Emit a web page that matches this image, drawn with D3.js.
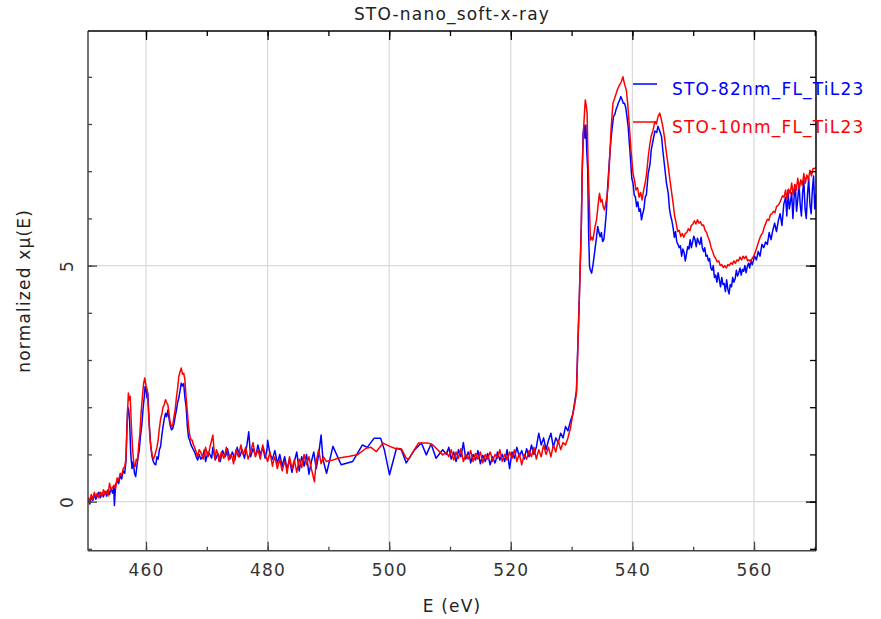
<!DOCTYPE html>
<html><head><meta charset="utf-8">
<script src="https://cdn.jsdelivr.net/npm/d3@7"></script>
<style>
body{margin:0;background:#fff}
text{font-family:"DejaVu Sans",sans-serif;letter-spacing:1.2px}
</style>
</head><body><svg id="c" width="881" height="619"></svg>
<script>
const chartTitle = "STO-nano_soft-x-ray";
const xLabel = "E (eV)";
const yLabel = "normalized xμ(E)";
const xMajorTicks = [460, 480, 500, 520, 540, 560];
const xMinorTicks = [460, 470, 480, 490, 500, 510, 520, 530, 540, 550, 560, 570];
const yMajorTicks = [0, 5];
const yMinorTicks = [-1, 0, 1, 2, 3, 4, 5, 6, 7, 8, 9];
const seriesNames = ["STO-82nm_FL_TiL23", "STO-10nm_FL_TiL23"];
const seriesColors = ["#0000ff", "#ff0000"];

// STO-82nm (blue): [E, normalized mu]
const sto82 = [
[450.5,0.05],[450.75,-0.05],[451.0,0.1],[451.25,0.02],[451.5,0.15],[451.75,0.05],[452.0,0.12],[452.25,0.2],[452.5,0.08],[452.75,0.18],[453.0,0.1],[453.25,0.22],[453.5,0.12],[453.75,0.25],[454.0,0.15],[454.25,0.28],[454.5,0.18],[454.7,0.3],[454.8,-0.08],[455.0,0.35],[455.25,0.45],[455.5,0.38],[455.75,0.55],[456.0,0.48],[456.25,0.65],[456.5,0.6],[456.7,0.85],[456.87,1.59],[457.0,2.0],[457.15,1.95],[457.3,1.7],[457.5,1.0],[457.7,0.7],[457.9,0.85],[458.1,0.6],[458.3,0.53],[458.5,0.75],[458.7,0.95],[458.9,1.1],[459.1,1.4],[459.3,1.6],[459.5,1.94],[459.7,2.2],[459.85,2.44],[460.0,2.38],[460.15,2.2],[460.3,2.3],[460.5,1.73],[460.7,1.3],[460.85,1.1],[461.0,0.95],[461.2,0.85],[461.4,0.8],[461.6,0.78],[461.8,0.95],[462.0,0.9],[462.2,1.1],[462.4,1.17],[462.6,1.4],[462.8,1.59],[463.0,1.75],[463.2,1.87],[463.4,1.8],[463.6,1.94],[463.8,1.75],[464.0,1.6],[464.2,1.52],[464.4,1.55],[464.6,1.65],[464.8,1.8],[465.0,1.94],[465.2,2.1],[465.4,2.2],[465.6,2.35],[465.8,2.51],[466.0,2.45],[466.2,2.5],[466.4,2.2],[466.6,2.01],[466.8,1.6],[467.0,1.35],[467.2,1.3],[467.4,1.2],[467.6,1.15],[467.8,1.1],[468.0,1.05],[468.25,0.95],[468.5,0.88],[468.75,1.0],
[469.0,0.9],[469.3,0.95],[469.6,1.1],[469.8,0.85],[470.2,1.05],[470.5,1.0],[470.8,0.92],[471.0,1.15],[471.4,0.88],[471.8,1.02],[472.0,0.97],[472.2,0.85],[472.6,1.08],[473.0,0.95],[473.2,1.0],[473.4,1.12],[473.8,0.9],[474.2,1.05],[474.4,0.98],[474.6,0.88],[475.0,1.15],[475.4,0.95],[475.6,1.02],[475.8,1.1],[476.2,0.92],[476.6,1.2],[476.9,1.48],[477.2,0.95],[477.6,1.12],[478.0,0.98],[478.2,1.05],[478.4,1.2],[478.8,1.0],[479.2,1.15],[479.6,0.92],[479.9,1.1],[480.0,1.3],[480.4,1.0],[480.8,0.9],[481.2,1.08],[481.6,0.82],[481.8,0.9],[482.0,1.0],[482.4,0.75],[482.8,0.95],[483.2,0.7],[483.4,0.78],[483.6,0.9],[484.0,0.62],[484.4,0.85],[484.8,1.05],[485.2,0.65],[485.6,0.95],[485.8,0.88],[486.0,0.75],[486.4,1.0],[486.8,0.58],[487.2,0.85],[487.6,1.05],[488.0,0.7],[488.4,1.0],[488.8,1.41],[489.1,0.9],[489.4,0.75],[489.7,0.6],
[490.75,1.17],[492.1,0.78],[494.0,0.85],[495.6,1.2],[496.4,1.15],[497.5,1.34],[498.6,1.34],[499.2,1.1],[500.05,0.57],[501.2,1.13],[502.0,1.1],[502.8,0.82],[504.2,1.1],[505.3,1.24],[506.1,0.99],[506.9,1.22],[507.7,0.92],[508.8,1.1],[509.4,1.0],
[509.8,1.15],[510.2,0.9],[510.6,1.05],[511.0,0.85],[511.2,0.95],[511.4,1.1],[511.8,0.95],[512.2,1.25],[512.6,0.9],[513.0,1.05],[513.2,0.98],[513.4,0.82],[513.8,1.0],[514.2,0.88],[514.6,1.08],[515.0,0.8],[515.2,0.9],[515.4,0.98],[515.8,0.85],[516.2,1.02],[516.6,0.78],[517.0,0.95],[517.4,0.82],[517.6,0.9],[517.8,1.05],[518.2,0.88],[518.6,1.0],[519.0,0.85],[519.4,1.1],[519.8,0.7],[520.2,1.05],[520.6,0.92],[521.0,1.15],[521.2,1.05],[521.4,0.95],[521.8,1.08],[522.2,0.9],[522.6,1.12],[523.0,0.95],[523.4,1.2],[523.8,1.0],[524.2,1.15],[524.6,1.45],[525.0,1.2],[525.4,1.35],[525.8,1.1],[526.2,1.3],[526.6,1.45],[527.0,1.15],[527.4,1.35],[527.8,1.25],[528.2,1.45],[528.6,1.35],[529.0,1.59],[529.4,1.5],[529.8,1.7],[530.2,1.85],[530.5,2.1],[530.8,2.35],[531.05,3.4],[531.3,4.45],[531.6,5.85],[531.75,7.0],[531.9,7.8],[532.05,7.98],[532.2,7.7],[532.35,7.98],[532.5,7.4],[532.65,7.03],[532.8,5.69],[532.95,4.98],[533.1,4.9],[533.3,4.84],[533.5,5.0],[533.7,5.19],[533.9,5.4],[534.1,5.6],[534.3,5.83],[534.5,5.7],[534.7,5.61],[534.9,5.7],[535.1,5.51],[535.3,5.55],[535.5,5.8],[535.7,6.11],[535.9,6.6],[536.1,7.0],[536.3,7.38],[536.5,7.7],[536.7,7.95],[536.9,8.16],[537.1,8.2],[537.3,8.3],[537.5,8.37],[537.7,8.45],[537.9,8.5],[538.1,8.58],[538.3,8.52],[538.5,8.44],[538.7,8.44],[538.9,8.35],
[539.1,8.16],[539.3,7.95],[539.5,7.6],[539.7,7.24],[539.9,6.85],[540.1,6.75],[540.3,6.5],[540.5,6.45],[540.7,6.25],[540.9,6.35],[541.1,6.15],[541.3,6.2],[541.5,5.97],[541.7,6.1],[541.9,6.2],[542.1,6.45],[542.3,6.5],[542.6,6.95],[542.9,7.15],[543.1,7.45],[543.4,7.65],[543.7,7.85],[544.0,7.82],[544.2,7.95],[544.5,7.85],[544.8,7.73],[545.0,7.45],[545.3,7.1],[545.6,6.75],[545.9,6.53],
[546.1,6.2],[546.3,6.05],[546.5,5.95],[546.7,5.8],[546.9,5.6],[547.1,5.72],[547.3,5.5],[547.5,5.45],[547.7,5.38],[547.9,5.42],[548.1,5.2],[548.3,5.35],[548.5,5.28],[548.7,5.1],[548.9,5.25],[549.1,5.4],[549.3,5.35],[549.5,5.55],[549.7,5.38],[549.9,5.5],[550.1,5.62],[550.3,5.55],[550.5,5.4],[550.7,5.58],[550.9,5.5],[551.1,5.45],[551.3,5.6],[551.5,5.38],[551.7,5.3],[551.9,5.38],[552.1,5.2],[552.3,5.22],[552.5,5.1],[552.7,5.15],[552.9,4.95],[553.1,4.9],[553.3,5.0],[553.5,4.75],[553.7,4.8],[553.9,4.65],[554.1,4.85],[554.3,4.7],[554.5,4.55],[554.7,4.75],[554.9,4.6],[555.1,4.62],[555.3,4.45],[555.5,4.7],[555.7,4.5],[555.9,4.4],[556.1,4.6],[556.3,4.55],[556.5,4.75],[556.7,4.65],[556.9,4.72],[557.1,4.9],[557.3,4.78],[557.5,4.85],[557.7,4.95],[557.9,4.8],[558.1,4.92],[558.3,4.88],[558.5,5.0],[558.7,4.85],[558.9,4.98],[559.1,5.05],[559.3,4.95],[559.5,5.12],[559.7,5.02],[559.9,5.1],[560.1,5.2],[560.4,5.12],[560.7,5.3],[561.0,5.2],[561.3,5.45],[561.6,5.38],[561.9,5.5],[562.2,5.45],[562.5,5.7],[562.8,5.55],[563.1,5.75],[563.4,5.9],[563.7,5.72],[564.0,5.95],[564.3,6.1],[564.6,5.85],[564.9,6.3],[565.2,6.45],[565.4,6.05],[565.6,6.6],[565.8,6.2],[566.0,6.35],[566.2,6.55],[566.4,6.0],[566.6,6.45],[566.8,6.7],[567.0,6.15],[567.2,6.4],[567.4,6.75],[567.6,6.3],[567.8,6.05],[568.0,6.55],[568.2,6.8],[568.4,6.2],[568.6,6.0],[568.8,6.5],[569.0,6.85],[569.2,6.3],[569.4,6.1],[569.6,6.6],[569.8,6.9],[570.0,6.2],[570.2,6.5]
];

// STO-10nm (red): [E, normalized mu]
const sto10 = [
[450.5,0.1],[450.75,0.0],[451.0,0.15],[451.25,0.05],[451.5,0.2],[451.75,0.1],[452.0,0.18],[452.25,0.08],[452.5,0.2],[452.75,0.12],[453.0,0.25],[453.25,0.15],[453.5,0.22],[453.75,0.12],[454.0,0.39],[454.25,0.25],[454.5,0.3],[454.75,0.35],[455.0,0.28],[455.25,0.5],[455.5,0.45],[455.75,0.6],[456.0,0.55],[456.25,0.7],[456.5,0.74],[456.7,0.9],[456.85,1.5],[457.0,2.0],[457.1,2.3],[457.25,2.15],[457.4,2.23],[457.6,1.59],[457.8,1.1],[458.0,0.8],[458.2,0.74],[458.4,0.9],[458.6,0.85],[458.8,1.2],[459.0,1.45],[459.2,1.9],[459.4,2.2],[459.6,2.5],[459.8,2.62],[460.0,2.45],[460.2,2.37],[460.4,1.94],[460.6,1.45],[460.8,1.15],[461.0,1.0],[461.2,0.9],[461.4,0.95],[461.6,1.05],[461.8,1.15],[462.0,1.31],[462.2,1.55],[462.4,1.75],[462.6,1.85],[462.8,2.0],[463.0,2.05],[463.2,2.16],[463.4,2.1],[463.6,2.05],[463.8,1.85],[464.0,1.66],[464.2,1.59],[464.4,1.62],[464.6,1.8],[464.8,1.95],[465.0,2.2],[465.2,2.4],[465.4,2.65],[465.6,2.75],[465.8,2.83],[466.0,2.7],[466.2,2.72],[466.4,2.58],[466.6,2.2],[466.8,1.9],[467.0,1.6],[467.2,1.4],[467.4,1.31],[467.6,1.3],[467.8,1.2],[468.0,1.15],[468.25,1.05],[468.5,0.95],[468.75,1.1],
[469.0,1.05],[469.4,0.9],[469.6,1.0],[469.8,1.15],[470.2,0.95],[470.6,1.2],[471.0,1.41],[471.3,0.9],[471.6,1.1],[471.8,1.02],[472.0,0.85],[472.4,1.05],[472.8,0.92],[473.0,1.0],[473.2,1.15],[473.6,0.88],[474.0,1.0],[474.2,0.92],[474.4,0.8],[474.8,1.1],[475.2,0.95],[475.6,1.2],[475.8,1.08],[476.0,1.0],[476.4,1.15],[476.8,0.9],[477.2,1.05],[477.6,1.25],[478.0,0.95],[478.2,1.02],[478.4,1.1],[478.8,0.9],[479.2,1.2],[479.6,1.0],[480.0,0.85],[480.4,1.05],[480.8,0.75],[481.0,0.88],[481.2,0.95],[481.6,0.7],[482.0,0.9],[482.4,0.65],[482.8,0.85],[483.0,0.78],[483.2,0.6],[483.6,0.95],[484.0,0.7],[484.4,0.88],[484.8,0.62],[485.2,0.9],[485.4,0.82],[485.6,0.72],[486.0,1.0],[486.4,0.78],[486.8,0.95],[487.2,0.7],[487.7,0.42],[488.0,0.85],[488.4,1.1],[488.8,0.8],[489.2,0.95],[489.65,0.85],
[490.75,0.88],[491.5,0.92],[493.5,0.96],[494.86,1.0],[496.2,1.13],[497.0,1.15],[497.9,1.06],[499.0,1.24],[500.1,1.17],[500.9,1.13],[502.0,1.12],[502.8,0.92],[503.2,0.9],[504.8,1.24],[506.4,1.24],[507.2,1.2],[508.8,0.99],[509.4,1.05],
[509.8,0.95],[510.2,1.1],[510.6,0.88],[510.8,0.95],[511.0,1.05],[511.4,0.92],[511.8,1.12],[512.2,0.85],[512.6,1.0],[512.8,0.95],[513.0,0.9],[513.4,1.08],[513.8,0.85],[514.2,1.02],[514.6,0.9],[514.8,0.98],[515.0,1.05],[515.4,0.82],[515.8,1.0],[516.2,0.9],[516.6,1.05],[516.8,0.98],[517.0,0.85],[517.4,1.0],[517.8,0.92],[518.2,1.1],[518.6,0.85],[519.0,1.0],[519.2,0.95],[519.4,0.88],[519.8,1.05],[520.2,0.92],[520.6,1.1],[521.0,0.85],[521.4,1.02],[521.8,0.78],[522.2,1.0],[522.6,0.9],[523.0,1.08],[523.4,0.95],[523.8,1.15],[524.2,0.9],[524.6,1.1],[525.0,0.95],[525.4,1.2],[525.8,1.0],[526.2,1.15],[526.6,0.95],[527.0,1.2],[527.4,1.05],[527.8,1.3],[528.2,1.1],[528.6,1.25],[529.0,1.2],[529.4,1.35],[529.8,1.55],[530.2,1.85],[530.5,2.05],[530.8,2.3],[531.05,3.36],[531.3,4.42],[531.6,5.83],[531.75,7.03],[531.9,7.6],[532.0,7.95],[532.15,8.3],[532.25,8.51],[532.4,8.4],[532.55,8.23],[532.7,7.24],[532.9,6.39],[533.1,5.54],[533.3,5.6],[533.5,5.54],[533.7,5.7],[533.9,5.85],[534.1,5.97],[534.3,6.2],[534.5,6.45],[534.6,6.53],[534.8,6.35],[535.0,6.4],[535.2,6.25],[535.4,6.18],[535.6,6.3],[535.8,6.45],[536.0,6.67],[536.25,7.24],[536.5,7.9],[536.8,8.44],[537.1,8.55],[537.35,8.65],[537.6,8.75],[537.9,8.83],[538.2,8.9],[538.45,9.0],[538.7,8.85],
[539.0,8.72],[539.25,8.4],[539.5,7.95],[539.8,7.4],[540.1,6.96],[540.35,6.8],[540.6,6.6],[540.85,6.65],[541.1,6.45],[541.35,6.55],[541.6,6.39],[541.85,6.6],[542.1,6.75],[542.35,6.96],[542.6,7.3],[542.85,7.55],[543.1,7.75],[543.4,7.87],[543.7,8.05],[543.95,8.0],[544.2,8.15],[544.5,8.23],[544.75,8.1],[545.0,7.95],[545.3,7.7],[545.6,7.38],[545.85,7.15],[546.1,6.89],[546.4,6.6],[546.7,6.32],[546.95,6.05],
[547.2,5.9],[547.45,5.72],[547.7,5.75],[547.95,5.62],[548.2,5.68],[548.45,5.6],[548.7,5.68],[548.95,5.7],[549.2,5.78],[549.45,5.74],[549.7,5.85],[549.95,5.88],[550.2,5.95],[550.45,5.88],[550.7,5.97],[550.95,5.9],[551.2,5.93],[551.45,5.85],[551.7,5.86],[551.95,5.75],[552.2,5.7],[552.45,5.6],[552.7,5.52],[552.95,5.38],[553.2,5.3],[553.45,5.2],[553.7,5.15],[553.95,5.08],[554.2,5.1],[554.45,5.0],[554.7,5.02],[554.95,4.96],[555.2,5.0],[555.45,4.95],[555.7,5.02],[555.95,5.0],[556.2,5.06],[556.45,5.03],[556.7,5.1],[556.95,5.05],[557.2,5.12],[557.45,5.1],[557.7,5.18],[557.95,5.12],[558.2,5.2],[558.45,5.15],[558.7,5.2],[558.95,5.1],[559.2,5.12],[559.45,5.08],[559.7,5.15],[559.95,5.2],[560.2,5.28],[560.45,5.38],[560.7,5.48],[560.95,5.58],[561.2,5.65],[561.45,5.7],[561.7,5.82],[561.95,5.9],[562.2,5.98],[562.45,5.96],[562.7,6.08],[562.95,6.1],[563.2,6.15],[563.45,6.12],[563.7,6.25],[563.95,6.28],[564.2,6.32],[564.45,6.4],[564.7,6.48],[564.95,6.45],[565.2,6.6],[565.45,6.4],[565.7,6.62],[565.95,6.52],[566.2,6.75],[566.45,6.5],[566.7,6.72],[566.95,6.6],[567.2,6.85],[567.45,6.62],[567.7,6.82],[567.95,6.7],[568.2,6.95],[568.45,6.75],[568.7,6.92],[568.95,6.82],[569.2,7.02],[569.45,6.9],[569.7,7.05],[570.2,7.07]
];

const series = [sto82, sto10];

const svg = d3.select("#c");
const L = 88, R = 816, T = 31, B = 550.7;
const x = d3.scaleLinear().domain([450.46, 570.2]).range([L, R]);
const y = d3.scaleLinear().domain([-1.04, 9.97]).range([B, T]);

svg.append("rect").attr("width", 881).attr("height", 619).attr("fill", "#fff");

// grid
const grid = svg.append("g").attr("stroke", "#d9d9d9").attr("stroke-width", 1.2);
xMajorTicks.forEach(v => grid.append("line").attr("x1", x(v)).attr("x2", x(v)).attr("y1", T).attr("y2", B));
yMajorTicks.forEach(v => grid.append("line").attr("y1", y(v)).attr("y2", y(v)).attr("x1", L).attr("x2", R));

// clip
svg.append("clipPath").attr("id", "clip").append("rect").attr("x", L).attr("y", T).attr("width", R - L).attr("height", B - T);

const line = d3.line().x(d => x(d[0])).y(d => y(d[1]));
const plot = svg.append("g").attr("clip-path", "url(#clip)");
series.forEach((s, i) => {
  plot.append("path").datum(s).attr("d", line).attr("fill", "none")
    .attr("stroke", seriesColors[i]).attr("stroke-width", 1.5).attr("stroke-linejoin", "round");
});

// axes (ticks inward)
function styleAxis(g, color) {
  g.select(".domain").remove();
  g.selectAll(".tick line").attr("stroke", color).attr("stroke-width", 1.3);
  g.selectAll("text").attr("font-size", 17).attr("fill", "#333").attr("font-family", "DejaVu Sans");
}
svg.append("g").attr("transform", `translate(0,${B})`)
  .call(d3.axisBottom(x).tickValues(xMinorTicks).tickSize(-4).tickFormat(""))
  .call(g => styleAxis(g, "#444"));
svg.append("g").attr("transform", `translate(0,${B})`)
  .call(d3.axisBottom(x).tickValues(xMajorTicks).tickSize(-9).tickPadding(13).tickFormat(d3.format("d")))
  .call(g => styleAxis(g, "#444"));
svg.append("g").attr("transform", `translate(0,${T})`)
  .call(d3.axisTop(x).tickValues(xMinorTicks).tickSize(-5).tickFormat(""))
  .call(g => styleAxis(g, "#000"));
svg.append("g").attr("transform", `translate(0,${T})`)
  .call(d3.axisTop(x).tickValues(xMajorTicks).tickSize(-9).tickFormat(""))
  .call(g => styleAxis(g, "#000"));
svg.append("g").attr("transform", `translate(${L},0)`)
  .call(d3.axisLeft(y).tickValues(yMinorTicks).tickSize(-4).tickFormat(""))
  .call(g => styleAxis(g, "#444"));
svg.append("g").attr("transform", `translate(${L},0)`)
  .call(d3.axisLeft(y).tickValues(yMajorTicks).tickSize(-9).tickFormat(d3.format("d")))
  .call(g => styleAxis(g, "#444"))
  .call(g => g.selectAll("text").attr("x", 0).attr("dy", 0).attr("text-anchor", "middle")
    .attr("transform", "translate(-15,0) rotate(-90)"));
svg.append("g").attr("transform", `translate(${R},0)`)
  .call(d3.axisRight(y).tickValues(yMinorTicks).tickSize(-6).tickFormat(""))
  .call(g => styleAxis(g, "#000"));
svg.append("g").attr("transform", `translate(${R},0)`)
  .call(d3.axisRight(y).tickValues(yMajorTicks).tickSize(-10).tickFormat(""))
  .call(g => styleAxis(g, "#000"));

// frame
const frame = svg.append("g").attr("stroke-width", 1.5);
frame.append("line").attr("x1", L).attr("x2", L).attr("y1", T).attr("y2", B).attr("stroke", "#444");
frame.append("line").attr("x1", L).attr("x2", R).attr("y1", B).attr("y2", B).attr("stroke", "#444");
frame.append("line").attr("x1", L).attr("x2", R).attr("y1", T).attr("y2", T).attr("stroke", "#000");
frame.append("line").attr("x1", R).attr("x2", R).attr("y1", T).attr("y2", B).attr("stroke", "#000");

// titles
svg.append("text").attr("x", (L + R) / 2).attr("y", 20).attr("text-anchor", "middle")
  .attr("font-size", 17).attr("fill", "#222").text(chartTitle);
svg.append("text").attr("x", (L + R) / 2).attr("y", 612).attr("text-anchor", "middle")
  .attr("font-size", 17).attr("fill", "#222").text(xLabel);
svg.append("text").attr("transform", `translate(30,${(T + B) / 2}) rotate(-90)`).attr("text-anchor", "middle")
  .attr("font-size", 17).attr("fill", "#222").text(yLabel);

// legend
const legendY = [84, 122];
seriesNames.forEach((n, i) => {
  svg.append("line").attr("x1", 633).attr("x2", 657).attr("y1", legendY[i]).attr("y2", legendY[i])
    .attr("stroke", seriesColors[i]).attr("stroke-width", 1.5);
  svg.append("text").attr("x", 672).attr("y", legendY[i] + 10.5).attr("font-size", 17)
    .attr("fill", seriesColors[i]).text(n);
});
</script>
</body></html>
